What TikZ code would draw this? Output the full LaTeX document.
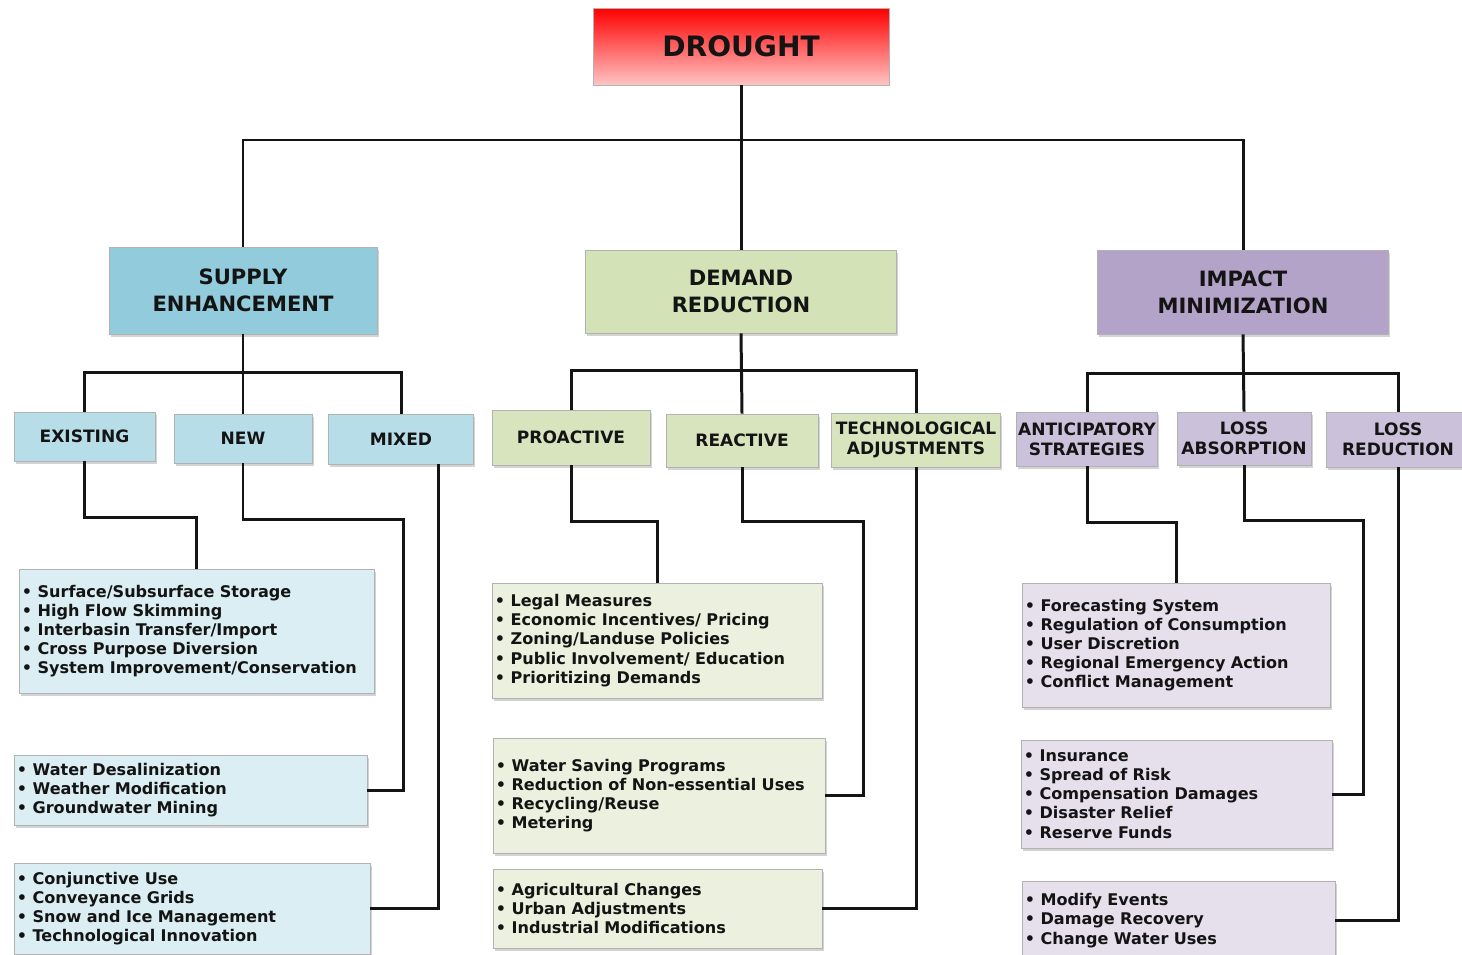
\documentclass[tikz,border=0pt]{standalone}
\usepackage{fontspec}
\setmainfont{DejaVu Sans}
\usetikzlibrary{shadows}
\definecolor{xRed}{RGB}{255,0,0}
\definecolor{xPink}{RGB}{255,196,196}
\definecolor{xBlue}{RGB}{146,203,219}
\definecolor{xGreen}{RGB}{212,226,184}
\definecolor{xPurple}{RGB}{179,163,200}
\definecolor{xBlueS}{RGB}{183,222,232}
\definecolor{xGreenS}{RGB}{216,228,190}
\definecolor{xPurpleS}{RGB}{204,193,219}
\definecolor{xBlueL}{RGB}{219,238,243}
\definecolor{xGreenL}{RGB}{235,241,222}
\definecolor{xPurpleL}{RGB}{229,224,236}
\definecolor{xInk}{RGB}{20,20,20}
\newcommand{\Bu}{\makebox[9pt][l]{\textbullet}}
\tikzset{
  topbox/.style={draw=gray!60, top color=xRed, bottom color=xPink, text=xInk,
                 minimum width=5.92cm, minimum height=1.54cm, font=\fontsize{16}{18}\selectfont\bfseries},
  head/.style={draw=gray!60, align=center, text=xInk, drop shadow={opacity=0.35, shadow xshift=1pt, shadow yshift=-1.5pt},
               font=\fontsize{12}{15.3}\selectfont\bfseries},
  sub/.style={draw=gray!60, align=center, text=xInk, inner xsep=0pt, drop shadow={opacity=0.35, shadow xshift=1pt, shadow yshift=-1.5pt},
              font=\fontsize{9.7}{11.3}\selectfont\bfseries},
  items/.style={draw=gray!60, align=left, text=xInk, inner xsep=1.5pt, drop shadow={opacity=0.35, shadow xshift=1pt, shadow yshift=-1.5pt},
                font=\fontsize{9.15}{10.9}\selectfont\bfseries},
  link/.style={line width=1.7pt, xInk},
}
\begin{document}
\begin{tikzpicture}[x=0.02cm, y=-0.02cm]
    \useasboundingbox (0,0) rectangle (1462,954);
    \node[topbox] (drought) at (741,46.5) {DROUGHT};

    \node[head, fill=xBlue, minimum width=5.36cm, minimum height=1.74cm] (supply) at (243,290.5) {SUPPLY\\ENHANCEMENT};
    \node[head, fill=xGreen, minimum width=6.22cm, minimum height=1.66cm] (demand) at (741,291.5) {DEMAND\\REDUCTION};
    \node[head, fill=xPurple, minimum width=5.82cm, minimum height=1.68cm] (impact) at (1243,292) {IMPACT\\MINIMIZATION};

    \node[sub, fill=xBlueS, minimum width=2.82cm, minimum height=0.98cm] (existing) at (84.5,436.5) {EXISTING};
    \node[sub, fill=xBlueS, minimum width=2.76cm, minimum height=0.98cm] (new) at (243,438.5) {NEW};
    \node[sub, fill=xBlueS, minimum width=2.9cm, minimum height=1.0cm] (mixed) at (401,439) {MIXED};
    \node[sub, fill=xGreenS, minimum width=3.16cm, minimum height=1.1cm] (proactive) at (571,437.5) {PROACTIVE};
    \node[sub, fill=xGreenS, minimum width=3.04cm, minimum height=1.06cm] (reactive) at (742,440.5) {REACTIVE};
    \node[sub, fill=xGreenS, minimum width=3.38cm, minimum height=1.08cm] (techadj) at (916,440) {TECHNOLOGICAL\\ADJUSTMENTS};
    \node[sub, fill=xPurpleS, minimum width=2.82cm, minimum height=1.08cm] (anticip) at (1087,439) {ANTICIPATORY\\STRATEGIES};
    \node[sub, fill=xPurpleS, minimum width=2.68cm, minimum height=1.06cm] (lossabs) at (1244,438.5) {LOSS\\ABSORPTION};
    \node[sub, fill=xPurpleS, minimum width=2.88cm, minimum height=1.1cm] (lossred) at (1398,439.5) {LOSS\\REDUCTION};

    \node[items, fill=xBlueL, text width=6.99cm, minimum height=2.48cm] (sup1) at (196.5,631) {\Bu Surface/Subsurface Storage\\\Bu High Flow Skimming\\\Bu Interbasin Transfer/Import\\\Bu Cross Purpose Diversion\\\Bu System Improvement/Conservation};
    \node[items, fill=xBlueL, text width=6.95cm, minimum height=1.4cm] (sup2) at (190.5,790) {\Bu Water Desalinization\\\Bu Weather Modification\\\Bu Groundwater Mining};
    \node[items, fill=xBlueL, text width=7.01cm, minimum height=1.82cm] (sup3) at (192,908.5) {\Bu Conjunctive Use\\\Bu Conveyance Grids\\\Bu Snow and Ice Management\\\Bu Technological Innovation};
    \node[items, fill=xGreenL, text width=6.49cm, minimum height=2.3cm] (dem1) at (657,640.5) {\Bu Legal Measures\\\Bu Economic Incentives/ Pricing\\\Bu Zoning/Landuse Policies\\\Bu Public Involvement/ Education\\\Bu Prioritizing Demands};
    \node[items, fill=xGreenL, text width=6.53cm, minimum height=2.3cm] (dem2) at (659,795.5) {\Bu Water Saving Programs\\\Bu Reduction of Non-essential Uses\\\Bu Recycling/Reuse\\\Bu Metering};
    \node[items, fill=xGreenL, text width=6.47cm, minimum height=1.58cm] (dem3) at (657.5,908.5) {\Bu Agricultural Changes\\\Bu Urban Adjustments\\\Bu Industrial  Modifications};
    \node[items, fill=xPurpleL, text width=6.05cm, minimum height=2.48cm] (imp1) at (1176,645) {\Bu Forecasting System\\\Bu Regulation of Consumption\\\Bu User Discretion\\\Bu Regional Emergency Action\\\Bu Conflict Management};
    \node[items, fill=xPurpleL, text width=6.11cm, minimum height=2.16cm] (imp2) at (1176.5,794) {\Bu Insurance\\\Bu Spread of Risk\\\Bu Compensation Damages\\\Bu Disaster Relief\\\Bu Reserve Funds};
    \node[items, fill=xPurpleL, text width=6.15cm, minimum height=1.58cm] (imp3) at (1178.5,920.5) {\Bu Modify Events\\\Bu Damage Recovery\\\Bu Change Water Uses};

    \coordinate (busT) at (0,140);
    \coordinate (busS) at (0,372);
    \coordinate (busD) at (0,370);
    \coordinate (busI) at (0,373);
    \coordinate (newR) at (403,0);
    \coordinate (mixX) at (438,0);
    \coordinate (reaR) at (863,0);
    \coordinate (absR) at (1363,0);

    \draw[link] (drought.south) -- (demand.north);
    \draw[link] (supply.north) -- (supply.north |- busT) -- (impact.north |- busT) -- (impact.north);
    \draw[link] (supply.south) -- (new.north);
    \draw[link] (existing.north) -- (existing.north |- busS) -- (mixed.north |- busS) -- (mixed.north);
    \draw[link] (demand.south) -- (reactive.north);
    \draw[link] (proactive.north) -- (proactive.north |- busD) -- (techadj.north |- busD) -- (techadj.north);
    \draw[link] (impact.south) -- (lossabs.north);
    \draw[link] (anticip.north) -- (anticip.north |- busI) -- (lossred.north |- busI) -- (lossred.north);

    \draw[link] (existing.south) -- ++(0,56) -| (sup1.north);
    \draw[link] (new.south) -- ++(0,56) -| (newR |- sup2.east) -- (sup2.east);
    \draw[link] (mixed.south -| mixX) -- (mixX |- sup3.east) -- (sup3.east);
    \draw[link] (proactive.south) -- ++(0,56) -| (dem1.north);
    \draw[link] (reactive.south) -- ++(0,54) -| (reaR |- dem2.east) -- (dem2.east);
    \draw[link] (techadj.south) |- (dem3.east);
    \draw[link] (anticip.south) -- ++(0,56) -| (imp1.north);
    \draw[link] (lossabs.south) -- ++(0,55) -| (absR |- imp2.east) -- (imp2.east);
    \draw[link] (lossred.south) |- (imp3.east);
\end{tikzpicture}
\end{document}
